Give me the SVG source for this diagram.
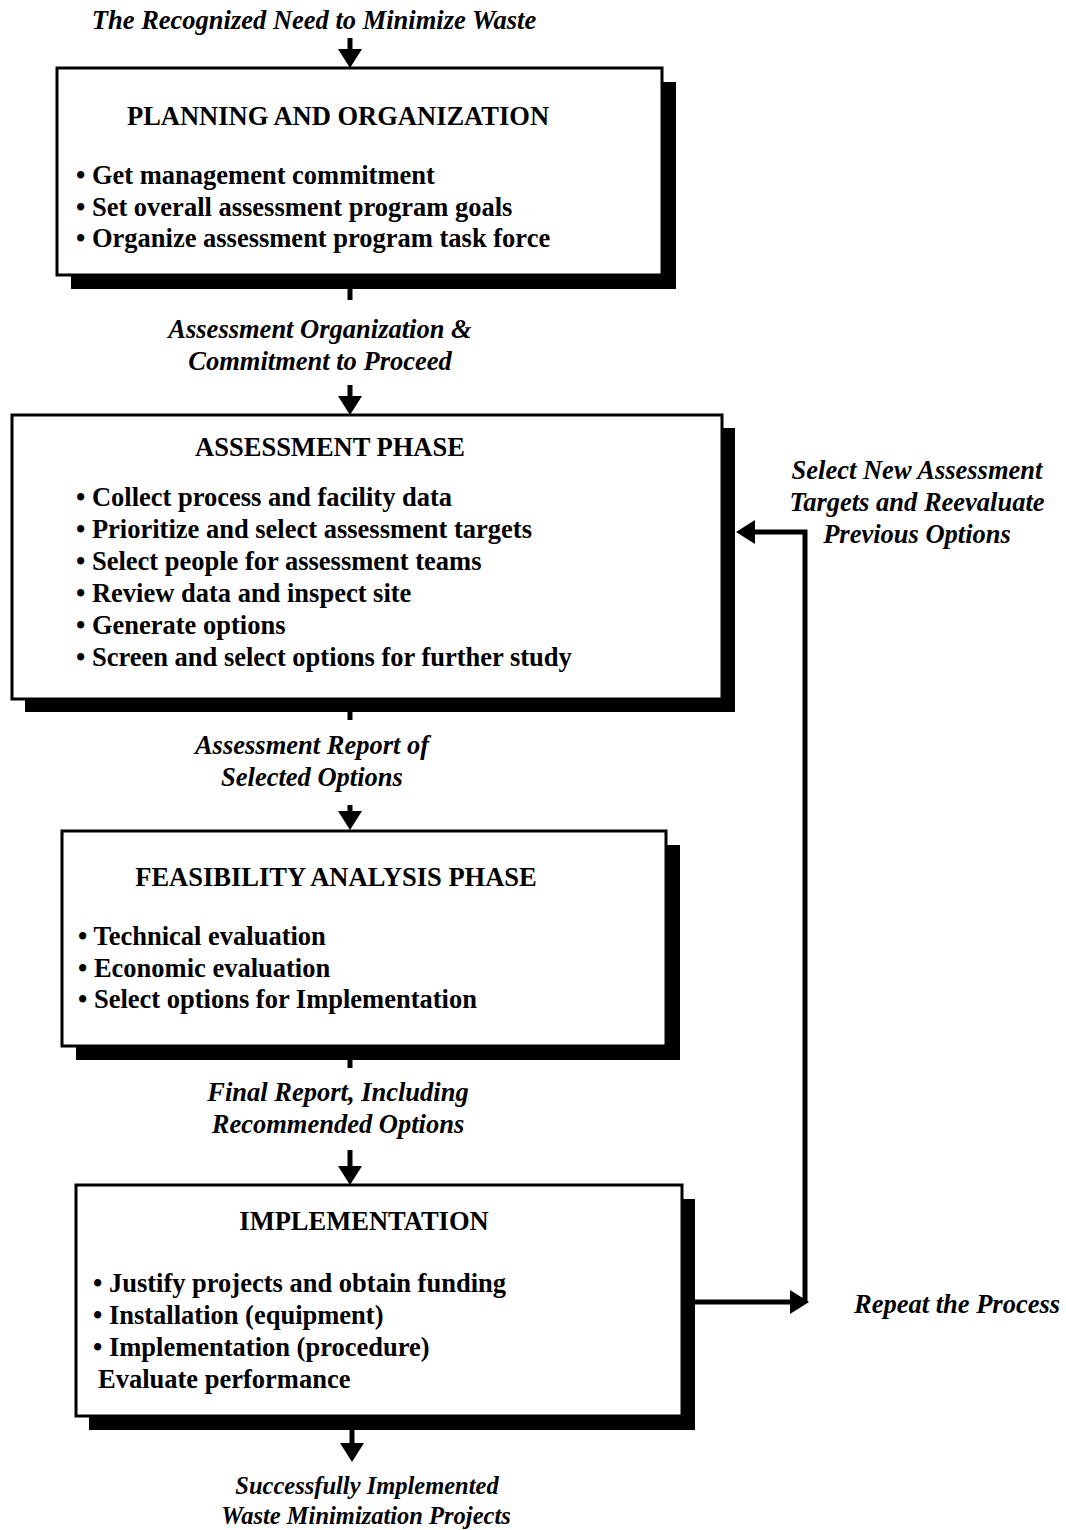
<svg xmlns="http://www.w3.org/2000/svg" width="1066" height="1530" viewBox="0 0 1066 1530">
<style>
.lbl{font-family:"Liberation Serif","Times New Roman",serif;font-style:italic;font-weight:bold;font-size:26.5px;fill:#000;text-anchor:middle}
.sm{font-size:24.5px}
.ttl{font-family:"Liberation Serif","Times New Roman",serif;font-weight:bold;font-size:26.5px;fill:#000;text-anchor:middle}
.itm{font-family:"Liberation Serif","Times New Roman",serif;font-weight:bold;font-size:26.5px;fill:#000}
.box{fill:#fff;stroke:#000;stroke-width:3}
.shd{fill:#000}
.ln{stroke:#000;stroke-width:5;fill:none}
.hd{fill:#000}
</style>
<rect width="1066" height="1530" fill="#fff"/>
<text class="lbl" x="314" y="29">The Recognized Need to Minimize Waste</text>
<text class="lbl" x="320" y="338">Assessment Organization &amp;</text>
<text class="lbl" x="320" y="370">Commitment to Proceed</text>
<text class="lbl" x="312" y="754">Assessment Report of</text>
<text class="lbl" x="312" y="786">Selected Options</text>
<text class="lbl" x="338" y="1101">Final Report, Including</text>
<text class="lbl" x="338" y="1133">Recommended Options</text>
<text class="lbl sm" x="367" y="1494">Successfully Implemented</text>
<text class="lbl sm" x="366" y="1524">Waste Minimization Projects</text>
<text class="lbl" x="917" y="479">Select New Assessment</text>
<text class="lbl" x="917" y="511">Targets and Reevaluate</text>
<text class="lbl" x="917" y="543">Previous Options</text>
<text class="lbl" x="957" y="1313">Repeat the Process</text>
<g id="connectors">
<line class="ln" x1="350" y1="38" x2="350" y2="54"/>
<polygon class="hd" points="338,49 362,49 350,68"/>
<line class="ln" x1="350" y1="288" x2="350" y2="300"/>
<line class="ln" x1="350" y1="385" x2="350" y2="400"/>
<polygon class="hd" points="338,396 362,396 350,415"/>
<line class="ln" x1="350" y1="712" x2="350" y2="720"/>
<line class="ln" x1="350" y1="805" x2="350" y2="816"/>
<polygon class="hd" points="338,811 362,811 350,830"/>
<line class="ln" x1="350" y1="1060" x2="350" y2="1068"/>
<line class="ln" x1="350" y1="1150" x2="350" y2="1170"/>
<polygon class="hd" points="338,1166 362,1166 350,1185"/>
<line class="ln" x1="352" y1="1430" x2="352" y2="1448"/>
<polygon class="hd" points="340,1443 364,1443 352,1462"/>
<polyline class="ln" points="695,1302 794,1302"/>
<polygon class="hd" points="790,1290 809,1302 790,1314"/>
<polyline class="ln" points="805,1302 805,532 750,532"/>
<polygon class="hd" points="755,520 736,532 755,544"/>
</g>
<g id="planning">
<rect class="shd" x="71" y="82" width="605" height="207"/>
<rect class="box" x="57" y="68" width="605" height="207"/>
<text class="ttl" x="338" y="125">PLANNING AND ORGANIZATION</text>
<text class="itm" x="76" y="184">• Get management commitment</text>
<text class="itm" x="76" y="216">• Set overall assessment program goals</text>
<text class="itm" x="76" y="247">• Organize assessment program task force</text>
</g>
<g id="assessment">
<rect class="shd" x="25" y="428" width="710" height="284"/>
<rect class="box" x="12" y="415" width="710" height="284"/>
<text class="ttl" x="330" y="456">ASSESSMENT PHASE</text>
<text class="itm" x="76" y="506">• Collect process and facility data</text>
<text class="itm" x="76" y="538">• Prioritize and select assessment targets</text>
<text class="itm" x="76" y="570">• Select people for assessment teams</text>
<text class="itm" x="76" y="602">• Review data and inspect site</text>
<text class="itm" x="76" y="634">• Generate options</text>
<text class="itm" x="76" y="666">• Screen and select options for further study</text>
</g>
<g id="feasibility">
<rect class="shd" x="76" y="845" width="604" height="215"/>
<rect class="box" x="62" y="831" width="604" height="215"/>
<text class="ttl" x="336" y="886">FEASIBILITY ANALYSIS PHASE</text>
<text class="itm" x="78" y="945">• Technical evaluation</text>
<text class="itm" x="78" y="977">• Economic evaluation</text>
<text class="itm" x="78" y="1008">• Select options for Implementation</text>
</g>
<g id="implementation">
<rect class="shd" x="89" y="1199" width="606" height="231"/>
<rect class="box" x="76" y="1185" width="606" height="231"/>
<text class="ttl" x="364" y="1230">IMPLEMENTATION</text>
<text class="itm" x="93" y="1292">• Justify projects and obtain funding</text>
<text class="itm" x="93" y="1324">• Installation (equipment)</text>
<text class="itm" x="93" y="1356">• Implementation (procedure)</text>
<text class="itm" x="98" y="1388">Evaluate performance</text>
</g>
</svg>
